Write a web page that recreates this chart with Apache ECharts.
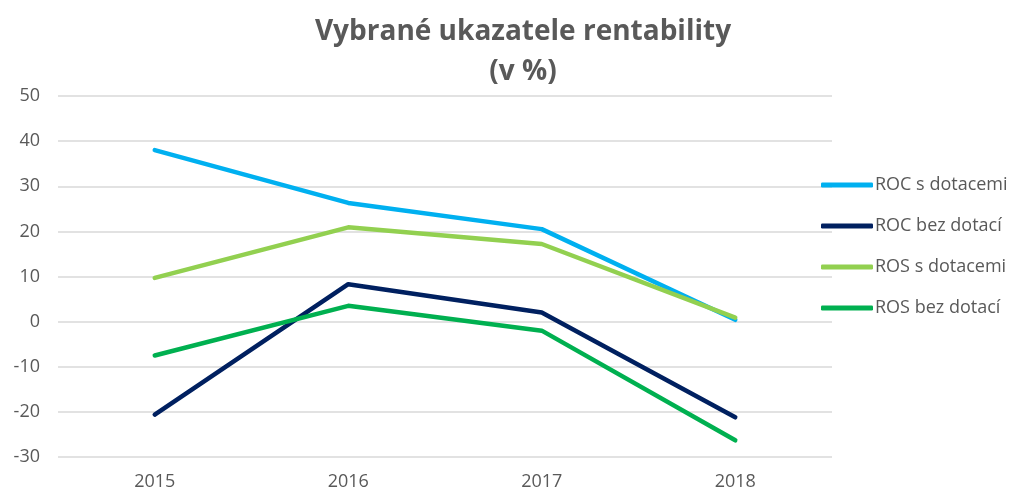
<!DOCTYPE html>
<html>
<head>
<meta charset="utf-8">
<script src="https://cdn.jsdelivr.net/npm/echarts@6/dist/echarts.min.js"></script>
<style>
  html, body { margin: 0; padding: 0; background: #fff; }
  #chart { width: 1019px; height: 491px; }
</style>
</head>
<body>
<div id="chart"></div>
<script>
// roky
const years = ["2015", "2016", "2017", "2018"];
// hodnoty v %
const rocSDotacemi = [38.0, 26.3, 20.5, 0.4];
const rocBezDotaci = [-20.6, 8.3, 2.0, -21.2];
const rosSDotacemi = [9.7, 20.9, 17.2, 0.9];
const rosBezDotaci = [-7.5, 3.5, -2.0, -26.3];

const names = ["ROC s dotacemi", "ROC bez dotací", "ROS s dotacemi", "ROS bez dotací"];
const colors = ["#00B0F0", "#002060", "#92D050", "#00B050"];
const values = [rocSDotacemi, rocBezDotaci, rosSDotacemi, rosBezDotaci];

const chart = echarts.init(document.getElementById("chart"));

chart.setOption({
  backgroundColor: "#fff",
  animation: false,
  title: {
    text: "Vybrané ukazatele rentability\n(v %)",
    left: 518,
    textAlign: "center",
    top: 7,
    textStyle: {
      fontFamily: "Open Sans",
      fontSize: 28,
      fontWeight: "bold",
      color: "#595959",
      lineHeight: 40
    }
  },
  legend: {
    orient: "vertical",
    left: 816,
    top: 171,
    itemWidth: 52,
    itemHeight: 5,
    itemGap: 23,
    icon: "roundRect",
    data: names,
    textStyle: {
      fontFamily: "Open Sans",
      fontSize: 18,
      color: "#595959",
      padding: [0, 0, 0, -3]
    }
  },
  grid: {
    left: 58,
    right: 187,
    top: 96,
    bottom: 33
  },
  xAxis: {
    type: "category",
    data: years,
    boundaryGap: true,
    axisLine: { show: false },
    axisTick: { show: false },
    axisLabel: {
      margin: 16,
      fontFamily: "Open Sans",
      fontSize: 18,
      color: "#595959"
    }
  },
  yAxis: {
    type: "value",
    min: -30,
    max: 50,
    interval: 10,
    axisLine: { show: false },
    axisTick: { show: false },
    axisLabel: {
      margin: 18,
      fontFamily: "Open Sans",
      fontSize: 18,
      color: "#595959"
    },
    splitLine: {
      lineStyle: { color: "#d9d9d9", width: 1.5 }
    }
  },
  series: names.map((name, i) => ({
    name: name,
    type: "line",
    data: values[i],
    showSymbol: false,
    symbol: "none",
    color: colors[i],
    lineStyle: { width: 4.5, color: colors[i], cap: "round", join: "round" }
  }))
});
</script>
</body>
</html>
